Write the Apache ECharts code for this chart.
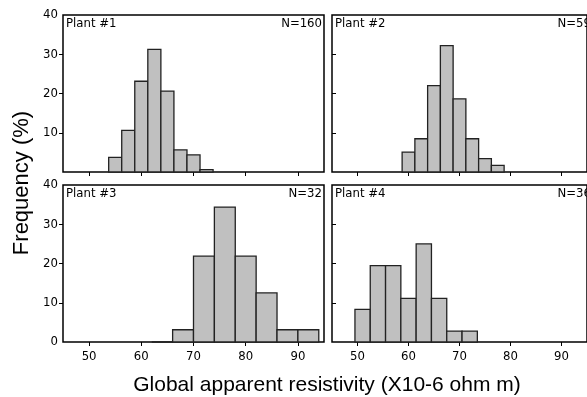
<!DOCTYPE html>
<html><head><meta charset="utf-8">
<script src="https://cdn.jsdelivr.net/npm/echarts@6/dist/echarts.min.js"></script>
<style>html,body{margin:0;padding:0;background:#fff}#c{width:587px;height:397px}</style>
</head><body><div id="c"></div>
<script>
// Panel data: bin starts, bin widths, frequencies (%)
const panelNames = ['Plant #1', 'Plant #2', 'Plant #3', 'Plant #4'];
const panelN = ['N=160', 'N=59', 'N=32', 'N=36'];
const binStart = [53.75, 58.75, 62, 49.5];
const binWidth = [2.5, 2.5, 4, 3];
const freq1 = [3.75, 10.625, 23.125, 31.25, 20.625, 5.625, 4.375, 0.625];
const freq2 = [5.08, 8.47, 22.03, 32.20, 18.64, 8.47, 3.39, 1.69];
const freq3 = [0, 3.125, 21.875, 34.375, 21.875, 12.5, 3.125, 3.125];
const freq4 = [8.33, 19.44, 19.44, 11.11, 25, 11.11, 2.78, 2.78];
const freqs = [freq1, freq2, freq3, freq4];
const xTicks = [50, 60, 70, 80, 90];
const yTicks = [0, 10, 20, 30, 40];
const xTitle = 'Global apparent resistivity (X10-6 ohm m)';
const yTitle = 'Frequency (%)';

const FONT = '"DejaVu Sans Condensed", "DejaVu Sans", sans-serif';
const TFONT = '"Liberation Sans", Arial, sans-serif';
const grids = [
  {left: 63, top: 15, width: 261, height: 157},
  {left: 332, top: 15, width: 261, height: 157},
  {left: 63, top: 185, width: 261, height: 157},
  {left: 332, top: 185, width: 261, height: 157}
];
const chart = echarts.init(document.getElementById('c'), null, {renderer: 'canvas'});
const xAxis = [], yAxis = [], series = [], graphic = [];
grids.forEach((g, i) => {
  g.show = true; g.borderColor = '#000'; g.borderWidth = 1.5; g.backgroundColor = '#fff';
  const bottomRow = i >= 2, leftCol = i % 2 === 0;
  xAxis.push({
    type: 'value', gridIndex: i, min: 45, max: 95,
    axisLine: {show: false}, splitLine: {show: false},
    axisTick: {show: true, customValues: xTicks, length: 4, lineStyle: {color: '#000', width: 1}},
    axisLabel: {show: bottomRow, customValues: xTicks, color: '#000', fontSize: 13, fontFamily: FONT, margin: 8}
  });
  yAxis.push({
    type: 'value', gridIndex: i, min: 0, max: 40,
    axisLine: {show: false}, splitLine: {show: false},
    axisTick: {show: true, inside: !leftCol, customValues: [10, 20, 30], length: 4, lineStyle: {color: '#000', width: 1}},
    axisLabel: {show: leftCol, customValues: bottomRow ? yTicks : yTicks.slice(1), color: '#000', fontSize: 13, fontFamily: FONT, margin: 5}
  });
  const data = freqs[i].map((v, k) => [binStart[i] + k * binWidth[i], binStart[i] + (k + 1) * binWidth[i], v]);
  series.push({
    type: 'custom', xAxisIndex: i, yAxisIndex: i, data: data,
    encode: {x: [0, 1], y: 2},
    renderItem: function (params, api) {
      const p0 = api.coord([api.value(0), 0]);
      const p1 = api.coord([api.value(1), api.value(2)]);
      return {
        type: 'rect',
        shape: {x: p0[0], y: p1[1], width: p1[0] - p0[0], height: p0[1] - p1[1]},
        style: {fill: '#c0c0c0', stroke: '#222', lineWidth: 1.3}
      };
    },
    silent: true, animation: false
  });
  graphic.push({type: 'text', x: g.left + 3, y: g.top + 2,
    style: {text: panelNames[i], fontSize: 13, fontFamily: FONT, fill: '#000', align: 'left', verticalAlign: 'top'}});
  graphic.push({type: 'text', x: g.left + g.width - 2, y: g.top + 2,
    style: {text: panelN[i], fontSize: 13, fontFamily: FONT, fill: '#000', align: 'right', verticalAlign: 'top'}});
});
graphic.push({type: 'text', x: 327, y: 385,
  style: {text: xTitle, fontSize: 21, fontFamily: TFONT, fill: '#000', align: 'center', verticalAlign: 'middle'}});
graphic.push({type: 'text', x: 22, y: 183, rotation: Math.PI / 2,
  style: {text: yTitle, fontSize: 22, fontFamily: TFONT, fill: '#000', align: 'center', verticalAlign: 'middle'}});
chart.setOption({animation: false, grid: grids, xAxis: xAxis, yAxis: yAxis, series: series, graphic: graphic});
</script></body></html>
